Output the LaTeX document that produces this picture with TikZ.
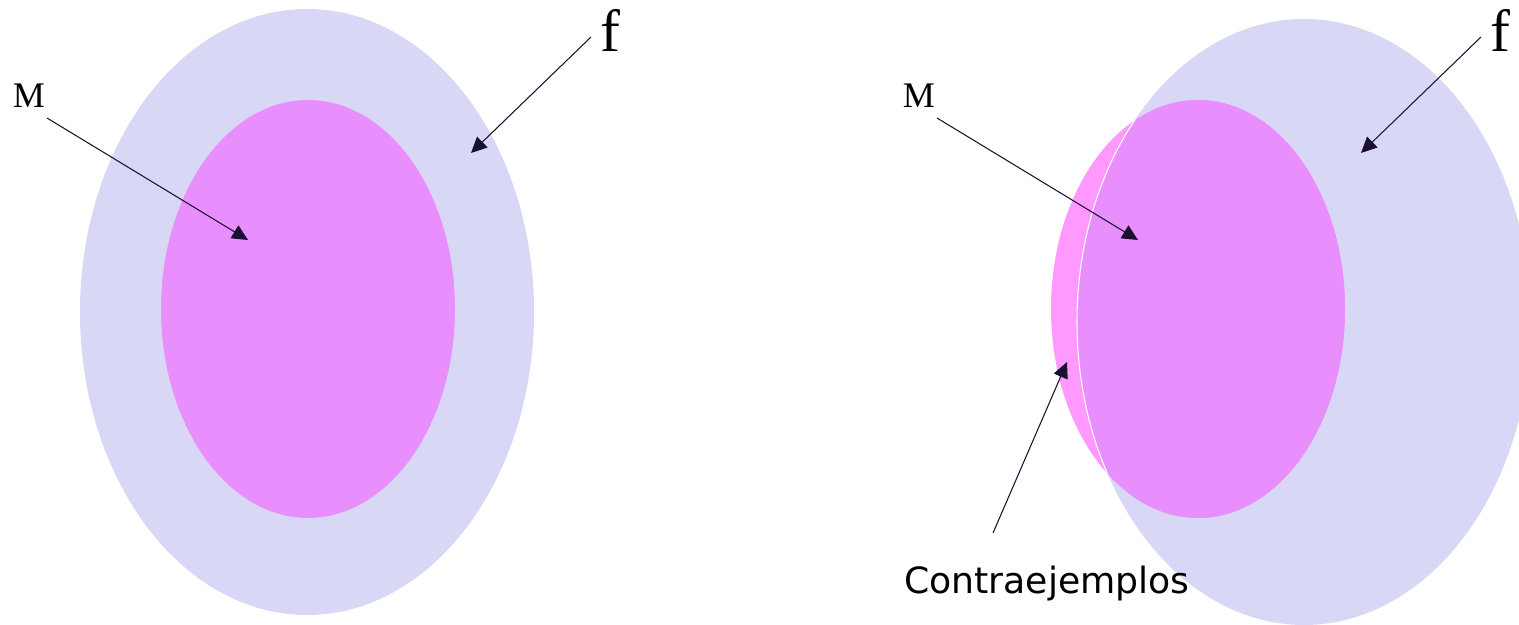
\documentclass[tikz,border=0pt]{standalone}
\usepackage{xcolor}
\usepackage{fontspec}
\usepackage{tikz}
\usetikzlibrary{positioning,arrows.meta}

\newfontfamily\lblfont{Liberation Serif}
\newfontfamily\txtfont{DejaVu Sans}

\definecolor{setblue}{HTML}{D8D8F6}
\definecolor{setpink}{HTML}{FF99FF}
\definecolor{setmix}{HTML}{E98EFD}
\definecolor{arrink}{HTML}{1A1033}

\begin{document}
\begin{tikzpicture}[
  x=0.02cm, y=-0.02cm,
  lbl/.style={inner sep=0pt, font=\lblfont\fontsize{20.5}{24}\selectfont},
  flbl/.style={inner sep=0pt, font=\lblfont\fontsize{34}{40}\selectfont},
  arr/.style={-{Triangle[length=9pt, width=8.5pt]}, color=arrink, line width=0.6pt}
]
  \useasboundingbox (0,0) rectangle (1519,625);

  % Left sets
  \fill[setblue] (307,312) ellipse [x radius=227, y radius=303];
  \fill[setmix] (308,309) ellipse [x radius=147, y radius=209];

  % Right sets
  \fill[setblue] (1304,322) ellipse [x radius=227, y radius=303];
  \fill[setpink] (1198,309) ellipse [x radius=147, y radius=209];
  \begin{scope}
    \clip (1198,309) ellipse [x radius=147, y radius=209];
    \fill[setmix] (1304,322) ellipse [x radius=227, y radius=303];
    \draw[white, line width=0.6pt] (1304,322) ellipse [x radius=227, y radius=303];
  \end{scope}

  % Labels
  \node[lbl] (mL) at (29,96) {M};
  \node[flbl] (fL) at (610,30) {f};
  \node[lbl] (mR) at (919,96) {M};
  \node[flbl] (fR) at (1500,30) {f};
  \node[anchor=base west, inner sep=0pt, font=\txtfont\fontsize{20.6}{24}\selectfont] (ce) at (904,593) {Contraejemplos};

  % Arrow ends
  \coordinate (mLs) at (47,118);  \coordinate (mLt) at (248,240);
  \coordinate (fLs) at (591,37);  \coordinate (fLt) at (471,153);
  \coordinate (mRs) at (937,118); \coordinate (mRt) at (1138,240);
  \coordinate (fRs) at (1481,37); \coordinate (fRt) at (1361,153);
  \coordinate (ces) at (993,533); \coordinate (cet) at (1067,362);

  % Arrows
  \draw[arr] (mLs) -- (mLt);
  \draw[arr] (fLs) -- (fLt);
  \draw[arr] (mRs) -- (mRt);
  \draw[arr] (fRs) -- (fRt);
  \draw[arr] (ces) -- (cet);
\end{tikzpicture}
\end{document}
